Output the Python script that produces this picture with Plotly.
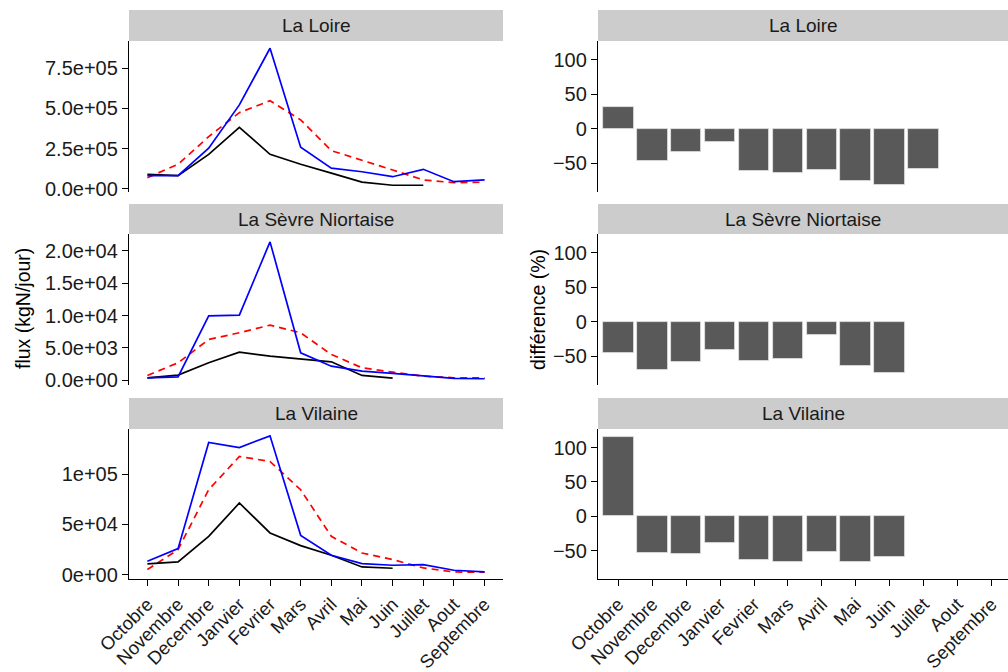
import plotly.graph_objects as go

months = ["Octobre", "Novembre", "Decembre", "Janvier", "Fevrier", "Mars",
          "Avril", "Mai", "Juin", "Juillet", "Aout", "Septembre"]
rivers = ["La Loire", "La Sèvre Niortaise", "La Vilaine"]

# flux (kgN/jour)
loire_blue = [83000, 83000, 253000, 522000, 874000, 259000, 129000, 107000, 76000, 122000, 45000, 56000]
loire_red = [70000, 153000, 325000, 474000, 548000, 429000, 238000, 180000, 118000, 56000, 39000, 42000]
loire_black = [91000, 83000, 215000, 383000, 215000, 153000, 98000, 42000, 23000, 23000, None, None]

sevre_blue = [410, 560, 9950, 10050, 21340, 4260, 2200, 1440, 1080, 670, 310, 260]
sevre_red = [770, 2720, 6310, 7340, 8520, 7340, 4000, 1950, 1280, 670, 410, 410]
sevre_black = [410, 820, 2720, 4360, 3750, 3340, 2870, 770, 360, None, None, None]

vilaine_blue = [13200, 25800, 131400, 126400, 138000, 39000, 19200, 10900, 9300, 9900, 4300, 2600]
vilaine_red = [5000, 24800, 84400, 117500, 112500, 84400, 38000, 21500, 14900, 6600, 2600, 2300]
vilaine_black = [10600, 12600, 38000, 71200, 41400, 28800, 19200, 7600, 6300, None, None, None]

# différence (%)
loire_diff = [31, -46.6, -33, -19.4, -61.7, -64, -60, -75.7, -81.6, -57.8, None, None]
sevre_diff = [-44.6, -69.8, -58.9, -40.6, -56.4, -53.5, -18.8, -63.4, -74.3, None, None, None]
vilaine_diff = [115.9, -53.4, -55.8, -39.4, -64, -66.3, -52, -67.3, -59.6, None, None, None]

flux_blue = [loire_blue, sevre_blue, vilaine_blue]
flux_red = [loire_red, sevre_red, vilaine_red]
flux_black = [loire_black, sevre_black, vilaine_black]
diffs = [loire_diff, sevre_diff, vilaine_diff]

left_ticks = [[0, 250000, 500000, 750000], [0, 5000, 10000, 15000, 20000], [0, 50000, 100000]]
left_ticktext = [["0.0e+00", "2.5e+05", "5.0e+05", "7.5e+05"],
                 ["0.0e+00", "5.0e+03", "1.0e+04", "1.5e+04", "2.0e+04"],
                 ["0e+00", "5e+04", "1e+05"]]
left_ranges = [[-19000, 919000], [-700, 22550], [-4400, 144800]]
right_ticks = [-50, 0, 50, 100]
right_range = [-91.5, 127]

W, H = 1008, 672
FONT = "Liberation Sans, Arial, sans-serif"
TICK = 20
XTICK = 18.5
TXT = "#1a1a1a"
# pixel geometry (top, bottom) of panels and strips
panels = [(41, 192), (234, 385), (429, 579)]
strips = [(10, 41), (204, 234), (398, 429)]
left_x = (129, 503)
right_x = (598, 1008)

def px(x):
    return x / W

def py(y):
    return 1 - y / H

fig = go.Figure()
layout = {}
shapes = []
annotations = []

for i, river in enumerate(rivers):
    la = 2 * i + 1
    ra = 2 * i + 2
    lx = "x" if la == 1 else f"x{la}"
    ly = "y" if la == 1 else f"y{la}"
    rx = f"x{ra}"
    ry = f"y{ra}"

    fig.add_trace(go.Scatter(x=months, y=flux_red[i], mode="lines",
                             line=dict(color="#FF0000", width=1.7, dash="7px,5px"),
                             xaxis=lx, yaxis=ly, showlegend=False))
    fig.add_trace(go.Scatter(x=months, y=flux_black[i], mode="lines",
                             line=dict(color="#000000", width=1.7),
                             xaxis=lx, yaxis=ly, showlegend=False))
    fig.add_trace(go.Scatter(x=months, y=flux_blue[i], mode="lines",
                             line=dict(color="#0000FF", width=1.7),
                             xaxis=lx, yaxis=ly, showlegend=False))
    fig.add_trace(go.Bar(x=months, y=diffs[i], width=0.9,
                         marker=dict(color="#595959", line=dict(color="#E6E6E6", width=0.8)),
                         xaxis=rx, yaxis=ry, showlegend=False))

    top, bot = panels[i]
    bottom_row = (i == 2)
    xcommon = dict(type="category", categoryorder="array", categoryarray=months,
                   showgrid=False, zeroline=False, automargin=False,
                   showline=bottom_row, linecolor="black", linewidth=1.3,
                   ticks="outside" if bottom_row else "", ticklen=6, tickwidth=1.1,
                   tickcolor="black", showticklabels=bottom_row, tickangle=-45,
                   tickfont=dict(family=FONT, size=XTICK, color=TXT), fixedrange=True)
    layout["xaxis" if la == 1 else f"xaxis{la}"] = dict(
        xcommon, domain=[px(left_x[0]), px(left_x[1])], anchor=ly, range=[-0.6, 11.6])
    layout[f"xaxis{ra}"] = dict(
        xcommon, domain=[px(right_x[0]), px(right_x[1])], anchor=ry, range=[-0.6, 11.49])

    ycommon = dict(showgrid=False, zeroline=False, showline=True, linecolor="black",
                   linewidth=1.3, ticks="outside", ticklen=6, tickwidth=1.1, tickcolor="black",
                   automargin=False,
                   tickfont=dict(family=FONT, size=TICK, color=TXT), fixedrange=True,
                   domain=[py(bot), py(top)])
    layout["yaxis" if la == 1 else f"yaxis{la}"] = dict(
        ycommon, anchor=lx, range=left_ranges[i], tickmode="array",
        tickvals=left_ticks[i], ticktext=left_ticktext[i])
    layout[f"yaxis{ra}"] = dict(
        ycommon, anchor=rx, range=right_range, tickmode="array", tickvals=right_ticks)

    s0, s1 = strips[i]
    for (x0, x1) in (left_x, right_x):
        shapes.append(dict(type="rect", xref="paper", yref="paper",
                           x0=px(x0), x1=px(x1), y0=py(s1), y1=py(s0),
                           fillcolor="#CCCCCC", line=dict(width=0), layer="below"))
        annotations.append(dict(text=river, xref="paper", yref="paper",
                                x=px((x0 + x1) / 2), y=py((s0 + s1) / 2),
                                showarrow=False, xanchor="center", yanchor="middle",
                                font=dict(family=FONT, size=19, color=TXT)))

annotations.append(dict(text="flux (kgN/jour)", xref="paper", yref="paper",
                        x=px(23), y=py(309), textangle=-90, showarrow=False,
                        xanchor="center", yanchor="middle",
                        font=dict(family=FONT, size=19.5, color="black")))
annotations.append(dict(text="différence (%)", xref="paper", yref="paper",
                        x=px(538), y=py(310), textangle=-90, showarrow=False,
                        xanchor="center", yanchor="middle",
                        font=dict(family=FONT, size=19.5, color="black")))

fig.update_layout(template="none", width=W, height=H, margin=dict(l=0, r=0, t=0, b=0),
                  paper_bgcolor="white", plot_bgcolor="white",
                  shapes=shapes, annotations=annotations, showlegend=False,
                  bargap=0, **layout)

fig.write_html("out.html")
